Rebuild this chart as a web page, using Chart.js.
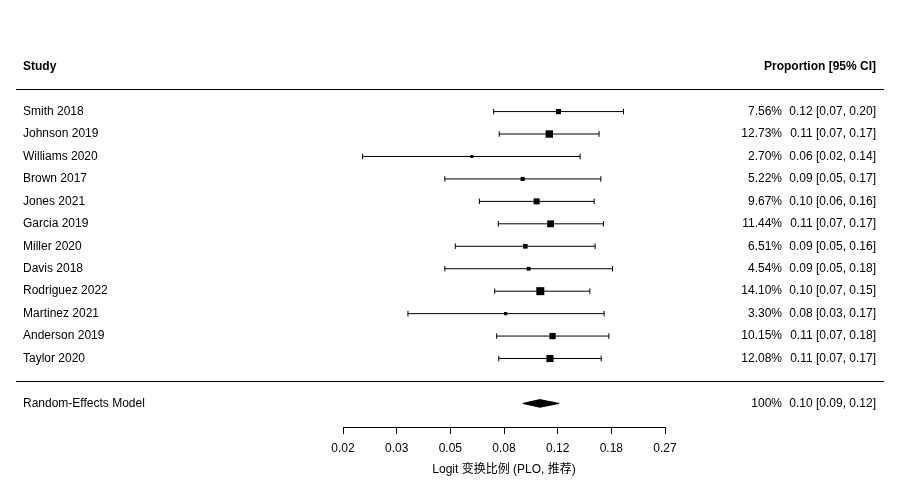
<!DOCTYPE html>
<html>
<head>
<meta charset="utf-8">
<title>Forest plot</title>
<script src="https://cdn.jsdelivr.net/npm/chart.js@4.4.1/dist/chart.umd.min.js"></script>
<style>
  html, body { margin: 0; padding: 0; background: #fff; }
  #forest { display: block; }
</style>
</head>
<body>
<canvas id="forest" width="900" height="500"></canvas>
<script>
const studies = [
  "Smith 2018", "Johnson 2019", "Williams 2020", "Brown 2017", "Jones 2021", "Garcia 2019",
  "Miller 2020", "Davis 2018", "Rodriguez 2022", "Martinez 2021", "Anderson 2019", "Taylor 2020",
];
// proportions
const estimates = [0.1205, 0.1119, 0.0585, 0.0899, 0.1009, 0.1131, 0.0919, 0.0945, 0.1040, 0.0780, 0.1149, 0.1125];
const lower = [0.0705, 0.0739, 0.0224, 0.0463, 0.0624, 0.0733, 0.0507, 0.0463, 0.0711, 0.0335, 0.0723, 0.0736];
const upper = [0.1988, 0.1656, 0.1431, 0.1679, 0.1595, 0.1712, 0.1607, 0.1833, 0.1543, 0.1721, 0.1783, 0.1683];
const weights = [7.56, 12.73, 2.70, 5.22, 9.67, 11.44, 6.51, 4.54, 14.10, 3.30, 10.15, 12.08];
const pooledEst = 0.1036;
const pooledLower = 0.0901;
const pooledUpper = 0.1212;
const tickLabels = ["0.02", "0.03", "0.05", "0.08", "0.12", "0.18", "0.27"];
const axisMin = -3.955; // logit scale
const axisMax = -1.015;

const FONT = '"Liberation Sans", Arial, "Noto Sans CJK SC", sans-serif';
const logit = (p) => Math.log(p / (1 - p));
const fmt = (v) => v.toFixed(2);
const modelRow = studies.length + 2;
const diamondHalf = 0.17; // rows

Chart.defaults.font.family = FONT;
Chart.defaults.font.size = 12;
Chart.defaults.color = "#000";

// squares scale with weight (side 3..8 px)
const wMin = Math.min(...weights);
const wMax = Math.max(...weights);
const sideFor = (w) => 3 + ((w - wMin) / (wMax - wMin)) * 5;

const ciLine = [];
const caps = [];
const squares = [];
studies.forEach((s, i) => {
  const row = i + 1;
  ciLine.push({ x: logit(lower[i]), y: row }, { x: logit(upper[i]), y: row }, { x: logit(upper[i]), y: null });
  caps.push({ x: logit(lower[i]), y: row }, { x: logit(upper[i]), y: row });
  squares.push({ x: logit(estimates[i]), y: row });
});

const diamondTop = [
  { x: logit(pooledLower), y: modelRow },
  { x: logit(pooledEst), y: modelRow - diamondHalf },
  { x: logit(pooledUpper), y: modelRow },
];
const diamondBottom = [
  { x: logit(pooledLower), y: modelRow },
  { x: logit(pooledEst), y: modelRow + diamondHalf },
  { x: logit(pooledUpper), y: modelRow },
];

// study table: labels, weights, CI text and rules
const tablePlugin = {
  id: "forestTable",
  afterDatasetsDraw(chart) {
    const { ctx } = chart;
    const rowY = (r) => chart.scales.y.getPixelForValue(r);
    ctx.save();
    ctx.fillStyle = "#000";
    ctx.textBaseline = "middle";

    ctx.font = "bold 12px " + FONT;
    ctx.textAlign = "left";
    ctx.fillText("Study", 23, rowY(-1));
    ctx.textAlign = "right";
    ctx.fillText("Proportion [95% CI]", 876, rowY(-1));

    ctx.strokeStyle = "#000";
    ctx.lineWidth = 1;
    [0, studies.length + 1].forEach((r) => {
      const py = Math.round(rowY(r)) + 0.5;
      ctx.beginPath();
      ctx.moveTo(16, py);
      ctx.lineTo(884, py);
      ctx.stroke();
    });

    ctx.font = "12px " + FONT;
    studies.forEach((s, i) => {
      const py = rowY(i + 1);
      ctx.textAlign = "left";
      ctx.fillText(s, 23, py);
      ctx.textAlign = "right";
      ctx.fillText(weights[i].toFixed(2) + "%", 782, py);
      ctx.fillText(`${fmt(estimates[i])} [${fmt(lower[i])}, ${fmt(upper[i])}]`, 876, py);
    });

    const my = rowY(modelRow);
    ctx.textAlign = "left";
    ctx.fillText("Random-Effects Model", 23, my);
    ctx.textAlign = "right";
    ctx.fillText("100%", 782, my);
    ctx.fillText(`${fmt(pooledEst)} [${fmt(pooledLower)}, ${fmt(pooledUpper)}]`, 876, my);
    ctx.restore();
  },
};

new Chart(document.getElementById("forest"), {
  type: "scatter",
  data: {
    datasets: [
      {
        type: "line",
        data: ciLine,
        borderColor: "#000",
        borderWidth: 1,
        pointRadius: 0,
        spanGaps: false,
      },
      {
        data: caps,
        pointStyle: "line",
        rotation: 90,
        pointRadius: 2.8,
        borderColor: "#000",
        borderWidth: 1,
      },
      {
        data: squares,
        pointStyle: "rect",
        pointRadius: weights.map((w) => sideFor(w) / (2 * Math.SQRT1_2)),
        backgroundColor: "#000",
        borderWidth: 0,
      },
      {
        type: "line",
        data: diamondTop,
        borderColor: "#000",
        backgroundColor: "#000",
        borderWidth: 1,
        pointRadius: 0,
        fill: "+1",
      },
      {
        type: "line",
        data: diamondBottom,
        borderColor: "#000",
        borderWidth: 1,
        pointRadius: 0,
      },
    ],
  },
  options: {
    responsive: false,
    animation: false,
    devicePixelRatio: 1,
    events: [],
    layout: { padding: { top: 33, left: 343, right: 235, bottom: 19 } },
    plugins: { legend: { display: false }, tooltip: { enabled: false } },
    scales: {
      x: {
        type: "linear",
        min: axisMin,
        max: axisMax,
        afterBuildTicks: (scale) => {
          const step = (axisMax - axisMin) / (tickLabels.length - 1);
          scale.ticks = tickLabels.map((_, k) => ({ value: axisMin + k * step }));
        },
        afterFit: (scale) => {
          scale.height = 54;
        },
        grid: { drawOnChartArea: false, drawTicks: true, tickLength: 7, color: "#000" },
        border: { display: true, color: "#000" },
        ticks: {
          padding: 7,
          autoSkip: false,
          maxRotation: 0,
          color: "#000",
          callback: (v, i) => tickLabels[i],
        },
        title: {
          display: true,
          text: "Logit 变换比例 (PLO, 推荐)",
          color: "#000",
          padding: { top: 4, bottom: 4 },
        },
      },
      y: {
        type: "linear",
        reverse: true,
        min: -2.5,
        max: 15.05,
        display: false,
      },
    },
  },
  plugins: [tablePlugin],
});
</script>
</body>
</html>
